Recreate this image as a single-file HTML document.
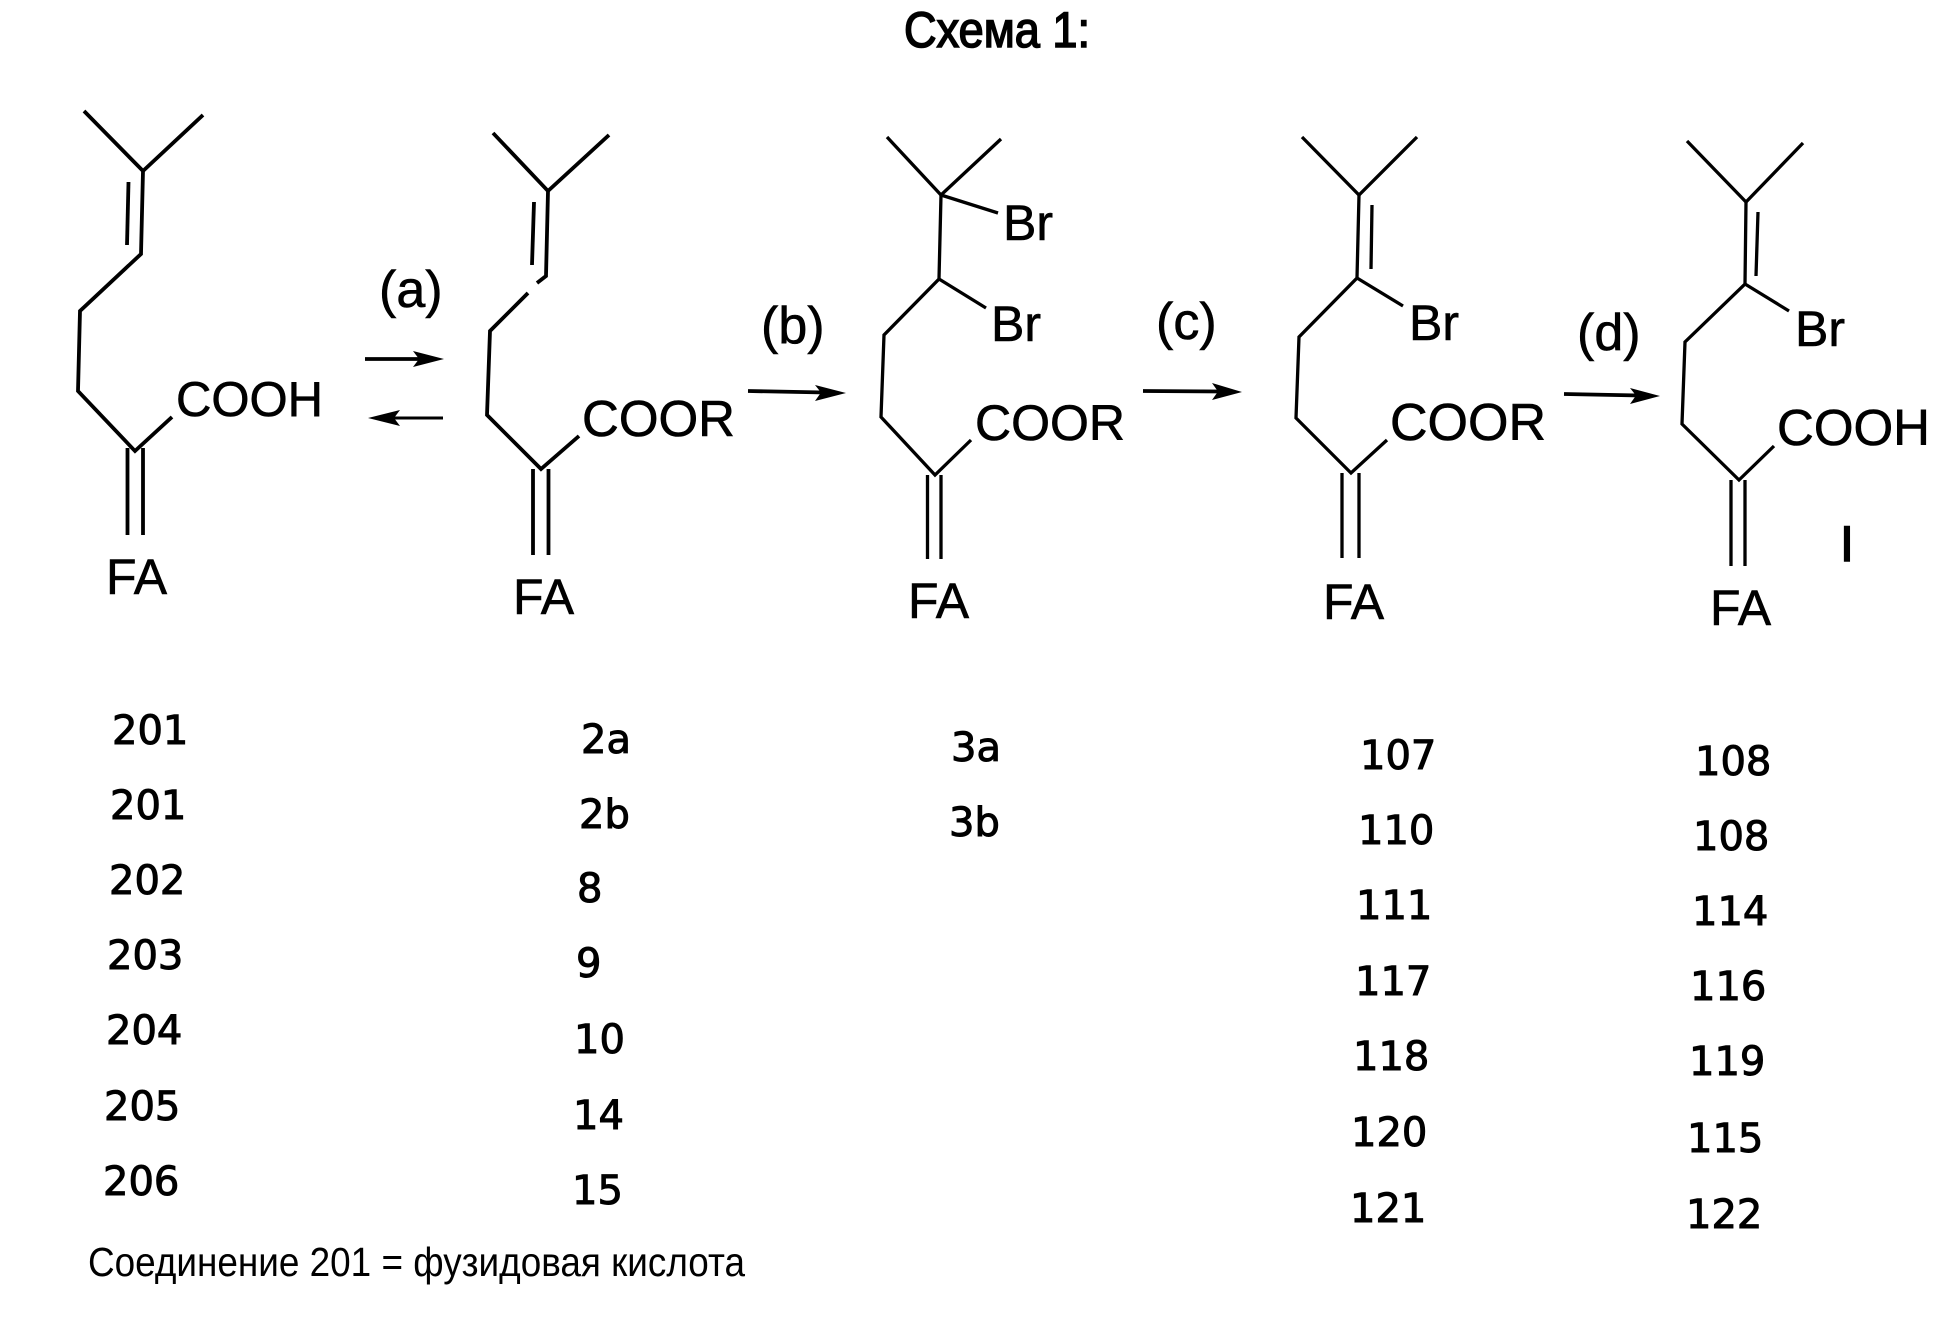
<!DOCTYPE html>
<html lang="ru">
<head>
<meta charset="utf-8">
<title>Схема 1</title>
<style>
html,body{margin:0;padding:0;background:#fff;width:1948px;height:1319px;overflow:hidden}
svg{display:block}
.b{fill:none;stroke:#000;stroke-width:3.3;stroke-linejoin:miter;stroke-linecap:butt}
.t{stroke:#000;stroke-width:3.8}
.s{font-family:"Liberation Sans",sans-serif;font-size:50px;fill:#000;stroke:#000;stroke-width:.6}
.n{font-family:"DejaVu Sans",sans-serif;font-size:40px;fill:#000;stroke:#000;stroke-width:1}
</style>
</head>
<body>
<svg width="1948" height="1319" viewBox="0 0 1948 1319" xmlns="http://www.w3.org/2000/svg">
<rect width="1948" height="1319" fill="#fff"/>

<text x="904" y="47" textLength="186" lengthAdjust="spacingAndGlyphs" style="font-family:'Liberation Sans',sans-serif;font-size:50px;stroke:#000;stroke-width:1.6">Схема 1:</text>

<!-- molecule 1 -->
<g class="b t">
<polyline points="84,111 143,171 203,115"/>
<polyline points="143,171 141,254 80,311 78,391 135,451 172,417"/>
<line x1="128.5" y1="182" x2="127" y2="245"/>
<line x1="127.5" y1="448" x2="127.5" y2="535"/>
<line x1="143" y1="448" x2="143" y2="535"/>
</g>
<text class="s" x="176" y="416" style="font-size:49px">COOH</text>
<text class="s" x="106" y="594">FA</text>

<!-- molecule 2 -->
<g class="b t">
<polyline points="493,133 548,191 609,135"/>
<polyline points="548,191 546,276 537,283"/>
<polyline points="528,293 490,331 487,415 541,469 579,436"/>
<line x1="534" y1="202" x2="532" y2="265"/>
<line x1="533" y1="469" x2="533" y2="555"/>
<line x1="548.5" y1="469" x2="548.5" y2="555"/>
</g>
<text class="s" x="582" y="436" style="font-size:51px">COOR</text>
<text class="s" x="513" y="614">FA</text>

<!-- molecule 3 -->
<g class="b">
<polyline points="887,137 941,195 1001,139"/>
<polyline points="941,195 939,279 884,335 881,417 935,475 971,440"/>
<line x1="941" y1="195" x2="998" y2="213"/>
<line x1="939" y1="279" x2="986" y2="308"/>
<line x1="927.5" y1="475" x2="927.5" y2="559"/>
<line x1="941" y1="475" x2="941" y2="559"/>
</g>
<text class="s" x="1003" y="240">Br</text>
<text class="s" x="991" y="341">Br</text>
<text class="s" x="975" y="440" style="font-size:50px">COOR</text>
<text class="s" x="908" y="618">FA</text>

<!-- molecule 4 -->
<g class="b">
<polyline points="1302,137 1359,195 1417,137"/>
<polyline points="1359,195 1357,278 1299,337 1296,418 1351,473 1387,440"/>
<line x1="1357" y1="278" x2="1403" y2="306"/>
<line x1="1372" y1="205" x2="1371" y2="269"/>
<line x1="1342" y1="473" x2="1342" y2="558"/>
<line x1="1359" y1="473" x2="1359" y2="558"/>
</g>
<text class="s" x="1409" y="340">Br</text>
<text class="s" x="1390" y="440" style="font-size:52px">COOR</text>
<text class="s" x="1323" y="619">FA</text>

<!-- molecule 5 -->
<g class="b">
<polyline points="1687,141 1746,202 1803,143"/>
<polyline points="1746,202 1745,284 1685,342 1682,424 1739,480 1774,446"/>
<line x1="1745" y1="284" x2="1789" y2="311"/>
<line x1="1758" y1="212" x2="1756" y2="276"/>
<line x1="1731" y1="480" x2="1731" y2="566"/>
<line x1="1745" y1="480" x2="1745" y2="566"/>
</g>
<text class="s" x="1795" y="346">Br</text>
<text class="s" x="1777" y="445" style="font-size:51px">COOH</text>
<text class="s" x="1710" y="625">FA</text>
<text x="1840" y="561" style="font-family:'Liberation Sans',sans-serif;font-size:50px;stroke:#000;stroke-width:1.5">I</text>

<!-- reaction labels -->
<text class="s" x="379" y="307" style="font-size:52px">(a)</text>
<text class="s" x="761" y="343" style="font-size:52px">(b)</text>
<text class="s" x="1156" y="339" style="font-size:52px">(c)</text>
<text class="s" x="1577" y="350" style="font-size:52px">(d)</text>

<!-- arrows -->
<line x1="365" y1="359" x2="425" y2="359" stroke="#000" stroke-width="3.8"/>
<polygon points="444,359 413,351 419,359 413,367"/>
<line x1="443" y1="418" x2="385" y2="418" stroke="#000" stroke-width="3"/>
<polygon points="368,418 400,410 394,418 400,426"/>
<line x1="748" y1="391" x2="825" y2="392.5" stroke="#000" stroke-width="3.8"/>
<polygon points="846,393 815,385 821,392.5 815,401"/>
<line x1="1143" y1="391" x2="1222" y2="391.5" stroke="#000" stroke-width="3.8"/>
<polygon points="1242,392 1212,383 1218,391.5 1212,400"/>
<line x1="1564" y1="394" x2="1640" y2="395.5" stroke="#000" stroke-width="3.8"/>
<polygon points="1660,396 1630,388 1636,395.5 1630,404"/>

<!-- number columns -->
<g class="n">
<text x="112" y="744">201</text>
<text x="110" y="819">201</text>
<text x="109" y="894">202</text>
<text x="107" y="969">203</text>
<text x="106" y="1044">204</text>
<text x="104" y="1120">205</text>
<text x="103" y="1195">206</text>

<text x="581" y="753">2a</text>
<text x="579" y="828">2b</text>
<text x="577" y="902">8</text>
<text x="576" y="977">9</text>
<text x="574" y="1053">10</text>
<text x="573" y="1129">14</text>
<text x="572" y="1204">15</text>

<text x="951" y="761">3a</text>
<text x="949" y="836">3b</text>

<text x="1360" y="769">107</text>
<text x="1358" y="844">110</text>
<text x="1356" y="919">111</text>
<text x="1355" y="995">117</text>
<text x="1353" y="1070">118</text>
<text x="1351" y="1146">120</text>
<text x="1350" y="1222">121</text>

<text x="1695" y="775">108</text>
<text x="1693" y="850">108</text>
<text x="1692" y="925">114</text>
<text x="1690" y="1000">116</text>
<text x="1689" y="1075">119</text>
<text x="1687" y="1152">115</text>
<text x="1686" y="1228">122</text>
</g>

<text x="88" y="1276" textLength="657" lengthAdjust="spacingAndGlyphs" style="font-family:'Liberation Sans',sans-serif;font-size:41px">Соединение 201 = фузидовая кислота</text>
</svg>
</body>
</html>
